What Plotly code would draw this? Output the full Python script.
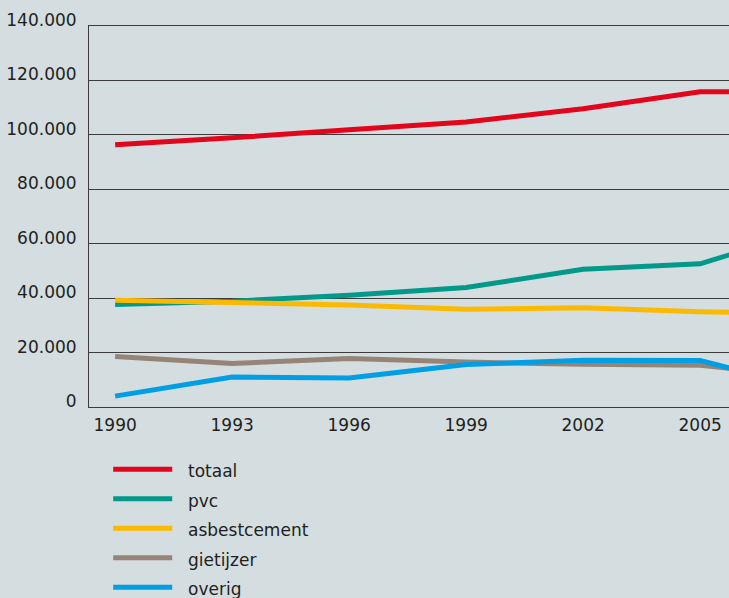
import plotly.graph_objects as go

years = [1990, 1993, 1996, 1999, 2002, 2005, 2006]
totaal = [96400, 98900, 101900, 104700, 109600, 115800, 115800]
pvc = [37700, 38900, 41100, 43900, 50600, 52600, 57000]
asbestcement = [39200, 38400, 37500, 35900, 36500, 35000, 34800]
gietijzer = [18600, 16000, 17800, 16500, 15700, 15300, 13900]
overig = [4000, 11000, 10700, 15600, 17200, 17100, 13400]

series = [
    ("totaal", totaal, "#e3051b"),
    ("pvc", pvc, "#00998a"),
    ("asbestcement", asbestcement, "#fbba00"),
    ("gietijzer", gietijzer, "#968479"),
    ("overig", overig, "#009fe3"),
]

x_ticks = [1990, 1993, 1996, 1999, 2002, 2005]
y_ticks = [0, 20000, 40000, 60000, 80000, 100000, 120000, 140000]
y_labels = ["0", "20.000", "40.000", "60.000", "80.000", "100.000", "120.000", "140.000"]

FONT = "DejaVu Sans"
BG = "#d4dddf"

fig = go.Figure()
for name, vals, col in series:
    fig.add_trace(go.Scatter(
        x=years, y=vals, mode="lines",
        name="<span style='font-size:17px'>\u00a0\u00a0" + name + "</span>",
        line=dict(color=col, width=5),
    ))

fig.update_layout(
    width=729, height=598,
    margin=dict(l=89, r=0, t=26, b=191, autoexpand=False),
    paper_bgcolor=BG, plot_bgcolor=BG,
    font=dict(family=FONT, size=17, color="#231f20"),
    showlegend=True,
    legend=dict(
        x=0.03, y=-0.1115, xanchor="left", yanchor="top",
        bgcolor="rgba(0,0,0,0)", font=dict(size=20.4, family=FONT, color="#231f20"),
        itemwidth=59,
    ),
    xaxis=dict(
        range=[1989.33, 2005.74], tickmode="array", tickvals=x_ticks,
        ticktext=[str(v) for v in x_ticks],
        showgrid=False, zeroline=False, showline=True, mirror=True,
        linecolor="#3c3c3c", linewidth=1,
        ticks="", ticklabelstandoff=3,
    ),
    yaxis=dict(
        range=[0, 140000], tickmode="array", tickvals=y_ticks, ticktext=y_labels,
        showgrid=True, gridcolor="#3c3c3c", gridwidth=1,
        zeroline=False, showline=True, linecolor="#3c3c3c", linewidth=1,
        ticks="", ticklabelstandoff=8, ticklabelshift=-6,
    ),
)

fig.write_html("out.html")
